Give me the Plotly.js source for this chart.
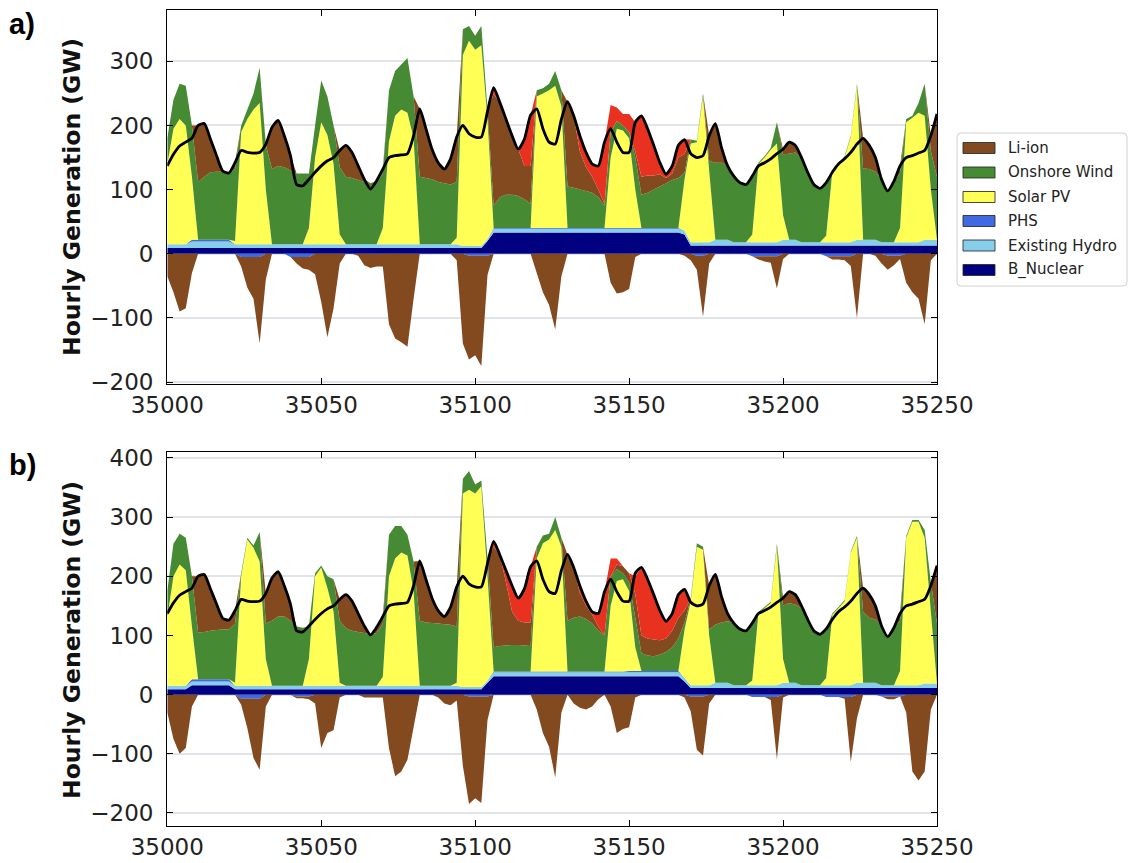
<!DOCTYPE html>
<html>
<head>
<meta charset="utf-8">
<script src="https://cdn.plot.ly/plotly-3.0.1.min.js"></script>
<style>html,body{margin:0;padding:0;background:#fff;}#chart{width:1132px;height:863px;}</style>
</head>
<body>
<div id="chart"></div>
<script>
// Hours start at 35000, one value every 2 hours (35000 ... 35250)
const hourStart = 35000;
const hourStep = 2;
const xTicks = [35000, 35050, 35100, 35150, 35200, 35250];
const legendNames = ["Li-ion", "Onshore Wind", "Solar PV", "PHS", "Existing Hydro", "B_Nuclear"];

// Demand (black line), GW — same in both panels
const demand = [
137,155,168,174,180,200,203,179,153,129,
126,142,161,158,157,158,171,197,208,184,
153,108,106,116,127,137,145,150,161,169,
158,137,116,101,114,132,150,153,154,156,
184,226,195,163,142,132,148,182,200,187,
182,182,222,259,236,210,184,163,179,216,
226,195,174,171,210,237,215,184,158,140,
137,174,195,174,158,158,205,215,195,169,
142,124,137,169,178,156,150,153,184,203,
166,137,121,111,108,121,137,142,148,156,
163,174,169,150,127,108,102,111,127,140,
148,158,171,180,169,150,116,98,113,137,
150,153,157,161,184,218];

// ---------- Panel a ----------
const nucA = [
9,9,9,9,9,9,9,9,9,9,
9,9,9,9,9,9,9,9,9,9,
9,9,9,9,9,9,9,9,9,9,
9,9,9,9,9,9,9,9,9,9,
9,9,9,9,9,9,9,9,9,9,
9,9,20,33,33,33,33,33,33,33,
33,33,33,33,33,33,33,33,33,33,
33,33,33,33,33,33,33,33,33,33,
33,33,33,33,30,13,13,13,13,13,
13,13,13,13,13,13,13,13,13,13,
13,13,13,13,13,13,13,13,13,13,
13,13,13,13,13,13,13,13,13,13,
13,13,13,13,13,13];
const hydA = [
6,6,6,6,10,10,10,10,10,10,
10,6,6,6,6,6,6,6,6,6,
6,6,6,6,6,6,6,6,6,6,
6,6,6,6,6,6,6,6,6,6,
6,6,6,6,6,6,6,6,3,3,
3,3,3,6,6,6,6,6,6,6,
6,6,6,6,6,6,6,6,6,6,
6,6,6,6,6,6,6,6,6,6,
6,6,6,6,6,5,5,5,5,9,
9,9,5,5,5,5,5,5,5,5,
9,9,9,5,5,5,5,5,5,5,
5,5,9,9,9,9,5,5,5,5,
5,5,5,9,9,9];
const phsA = [
0,0,0,0,3,3,3,3,3,3,
3,0,0,0,0,0,0,0,0,0,
0,0,0,0,0,0,0,0,0,0,
0,0,0,0,0,0,0,0,0,0,
0,0,0,0,0,0,0,0,0,0,
0,0,0,1,1,1,1,1,1,1,
1,1,1,1,1,1,1,1,1,1,
1,1,1,1,1,1,1,1,1,1,
1,1,1,1,0,0,0,0,0,0,
0,0,0,0,0,0,0,0,0,0,
0,0,0,0,0,0,0,0,0,0,
0,0,0,0,0,0,0,0,0,0,
0,0,0,0,0,0];
const solarA = [
125,180,195,185,98,0,0,0,0,0,
0,5,175,195,210,220,85,0,0,0,
0,0,0,25,135,190,170,125,15,0,
0,0,0,0,0,25,160,200,210,205,
165,0,0,0,0,0,0,10,298,320,
306,313,187,0,0,0,0,0,0,0,
205,210,215,222,190,0,0,0,0,0,
0,0,110,155,152,140,60,0,0,0,
0,0,0,0,80,154,156,227,112,0,
0,0,0,0,0,12,122,132,144,154,
38,0,0,0,0,0,0,10,110,120,
132,164,240,0,0,0,0,0,0,22,
187,194,202,193,78,0];
const windA = [
40,45,55,62,80,90,98,105,106,106,
104,112,10,15,25,55,70,117,122,120,
115,110,110,85,50,65,60,60,105,105,
103,100,97,95,97,85,80,70,70,85,
65,105,103,101,97,95,93,87,40,23,
22,30,15,35,48,52,52,50,45,38,
10,8,10,23,25,65,63,60,58,55,
48,35,40,12,8,10,50,52,55,60,
65,70,75,78,10,6,2,5,15,120,
120,115,103,93,90,91,2,2,3,33,
95,134,136,130,109,90,84,80,2,2,
2,2,3,111,110,106,98,80,95,85,
5,3,15,50,60,98];
const liA = [
0,0,0,0,0,88,83,52,25,1,
0,10,0,0,0,0,1,65,71,49,
23,0,0,0,0,0,0,0,26,49,
40,22,4,0,2,7,0,0,0,0,
0,106,77,47,30,22,40,70,0,0,
0,0,0,174,148,118,92,73,52,59,
0,0,0,0,0,132,112,60,37,25,
12,3,0,0,0,0,10,28,27,22,
19,8,10,32,30,0,0,0,39,61,
24,0,0,0,0,0,0,0,0,0,
8,18,11,2,0,0,0,3,0,0,
0,0,0,47,37,22,0,0,0,12,
0,0,0,0,24,98];
const redA = [
0,0,0,0,0,0,0,0,0,0,
0,0,0,0,0,0,0,0,0,0,
0,0,0,0,0,0,0,0,0,0,
0,0,0,0,0,0,0,0,0,0,
0,0,0,0,0,0,0,0,0,0,
0,0,0,10,0,0,0,0,42,79,
0,0,0,0,0,0,0,24,23,20,
37,96,42,21,18,28,45,95,73,47,
18,6,12,19,22,0,0,0,0,0,
0,0,0,0,0,0,0,0,0,0,
0,0,0,0,0,0,0,0,0,0,
0,0,0,0,0,0,0,0,0,0,
0,0,0,0,0,0];
const liNegA = [
-35,-60,-90,-85,-30,0,0,0,0,0,
0,0,-15,-48,-65,-135,-40,0,0,0,
0,-10,-18,-20,-32,-75,-130,-85,-15,0,
0,-3,-18,-22,-20,-20,-110,-132,-138,-145,
-70,0,0,0,0,0,0,-10,-140,-162,
-155,-172,-30,0,0,0,0,0,0,0,
-30,-60,-80,-118,-35,0,0,0,0,0,
0,0,-45,-62,-60,-55,-5,0,0,0,
0,0,0,0,-3,-10,-22,-95,-15,0,
0,0,0,0,0,0,-5,-8,-10,-50,
-8,0,0,0,0,0,0,0,-5,-5,
-6,-15,-100,0,0,-3,-15,-22,-15,-5,
-45,-60,-70,-110,-10,0];
const phsNegA = [
0,0,0,0,0,0,0,0,0,0,
0,0,-5,-5,-5,-5,0,0,0,0,
-5,-5,-5,-5,0,0,0,0,0,0,
0,0,0,0,0,0,0,0,0,0,
0,0,0,0,0,0,0,0,0,-3,
-3,-3,-3,0,0,0,0,0,0,0,
0,0,0,0,0,0,0,0,0,0,
0,0,0,0,0,0,0,0,0,0,
0,0,0,0,0,0,-3,-3,0,0,
0,0,0,0,0,-4,-4,-4,-4,-4,
0,0,0,0,0,0,0,-4,-4,-4,
-4,-4,0,0,0,0,0,-3,-3,-3,
0,0,0,0,0,0];

// ---------- Panel b ----------
const nucB = [
9,9,9,9,16,16,16,16,16,16,
16,9,9,9,9,9,9,9,9,9,
9,9,9,9,9,9,9,9,9,9,
9,9,9,9,9,9,9,9,9,9,
9,9,9,9,9,9,9,9,9,9,
9,9,20,31,31,31,31,31,31,31,
31,31,31,31,31,31,31,31,31,31,
31,31,31,31,31,31,31,31,31,31,
31,31,31,31,22,11,11,11,11,11,
11,11,11,11,11,11,11,11,11,11,
11,11,11,11,11,11,11,11,11,11,
11,11,11,11,11,11,11,11,11,11,
11,11,11,11,11,11];
const hydB = [
6,6,6,6,6,6,6,6,6,6,
6,6,6,6,6,6,6,6,6,6,
6,6,6,6,6,6,6,6,6,6,
6,6,6,6,6,6,6,6,6,6,
6,6,6,6,6,6,6,6,4,4,
4,4,4,7,7,7,7,7,7,7,
7,7,7,7,7,7,7,7,7,7,
7,7,7,7,7,7,7,7,7,7,
7,7,7,7,6,5,5,5,5,9,
9,9,5,5,5,5,5,5,5,5,
9,9,9,5,5,5,5,5,5,5,
5,5,9,9,9,9,5,5,5,5,
5,5,5,8,8,8];
const phsB = [
0,0,0,0,4,4,4,4,4,4,
4,0,0,0,0,0,0,0,0,0,
0,0,0,0,0,0,0,0,0,0,
0,0,0,0,0,0,0,0,0,0,
0,0,0,0,0,0,0,0,0,0,
0,0,0,1,1,1,1,1,1,1,
1,1,1,1,1,1,1,1,1,1,
1,1,1,1,1,2,2,2,2,2,
2,2,2,2,0,0,0,0,0,0,
0,0,0,0,0,0,0,0,0,0,
0,0,0,0,0,0,0,0,0,0,
0,0,0,0,0,0,0,0,0,0,
0,0,0,0,0,0];
const solarB = [
115,185,205,195,89,0,0,0,0,0,
0,5,185,247,233,210,45,0,0,0,
0,0,0,45,185,200,165,125,5,0,
0,0,0,0,0,15,185,215,225,220,
160,0,0,0,0,0,0,5,327,333,
327,339,176,0,0,0,0,0,0,0,
191,217,223,239,211,0,0,0,0,0,
0,0,111,153,156,135,40,0,0,0,
0,0,0,0,82,142,234,229,84,0,
0,0,0,0,0,8,122,130,139,234,
40,0,0,0,0,0,0,12,119,130,
142,224,245,0,0,0,0,0,0,24,
249,276,276,246,121,0];
const windB = [
45,55,52,55,85,79,80,82,83,84,
84,100,5,3,4,50,60,110,117,117,
110,100,98,55,5,3,20,55,105,97,
93,91,89,87,89,90,70,55,45,35,
50,110,107,106,105,104,103,95,25,32,
15,10,30,41,43,44,45,45,44,43,
20,13,10,22,15,86,91,93,89,81,
69,61,50,20,10,15,50,30,26,25,
28,32,40,55,12,4,6,5,10,98,
102,104,105,95,92,97,2,2,2,5,
90,135,132,130,111,92,86,80,2,2,
2,2,3,120,110,107,100,82,97,85,
3,3,3,13,50,101];
const liB = [
0,0,0,0,0,95,97,71,44,19,
16,22,0,0,0,0,51,72,76,52,
28,0,0,0,0,0,0,0,36,57,
50,31,12,0,10,12,0,0,0,0,
0,101,73,42,22,13,30,67,0,0,
0,0,0,170,154,107,56,41,39,40,
0,0,0,0,0,112,85,40,22,15,
7,0,0,8,12,15,40,30,29,28,
24,23,28,35,20,0,0,0,74,85,
44,13,0,0,0,0,0,0,0,0,
13,19,17,4,0,0,0,3,0,0,
0,0,0,40,39,23,0,0,0,12,
0,0,0,0,0,98];
const redB = [
0,0,0,0,0,0,0,0,0,0,
0,0,0,0,0,0,0,0,0,0,
0,0,0,0,0,0,0,0,0,0,
0,0,0,0,0,0,0,0,0,0,
0,0,0,0,0,0,0,0,0,0,
0,0,0,9,0,20,44,38,57,94,
0,0,0,0,0,0,0,12,8,5,
22,74,30,10,0,0,30,115,100,76,
50,29,29,39,36,0,0,0,0,0,
0,0,0,0,0,0,0,0,0,0,
0,0,0,0,0,0,0,0,0,0,
0,0,0,0,0,0,0,0,0,0,
0,0,0,0,0,0];
const liNegB = [
-30,-75,-100,-90,-20,0,0,0,0,0,
0,0,-10,-50,-100,-120,-20,0,0,0,
0,-3,-3,-5,-15,-90,-65,-60,-5,0,
0,0,-5,-5,-5,-5,-90,-138,-130,-110,
-55,0,0,0,-5,-15,-18,-10,-120,-182,
-172,-180,-40,0,0,0,0,0,0,0,
-25,-65,-88,-140,-30,0,-15,-22,-25,-20,
-8,0,-20,-65,-58,-55,-5,0,0,0,
0,0,0,0,-5,-25,-90,-100,-15,0,
0,0,0,0,0,0,0,0,-5,-105,
-5,0,0,0,0,0,0,0,0,0,
-3,-110,-40,0,0,0,0,-5,-5,0,
-30,-130,-145,-130,-25,0];
const phsNegB = [
0,0,0,0,0,0,0,0,0,0,
0,0,-7,-7,-7,-7,0,0,0,0,
0,-3,-3,-3,0,0,0,0,0,0,
0,0,0,0,0,0,0,0,0,0,
0,0,0,0,0,0,0,0,0,-3,
-3,-3,-3,0,0,0,0,0,0,0,
0,0,0,0,0,0,0,0,0,0,
0,0,0,0,0,0,0,0,0,0,
0,0,0,0,0,-3,-3,-3,0,0,
0,0,0,0,0,-4,-4,-4,-4,-4,
0,0,0,0,0,0,0,-4,-4,-4,
-4,-4,0,0,0,0,-3,-3,-3,-3,
0,0,0,0,0,0];

// ---------- styling ----------
const C = {
  li: '#834a20', wind: '#468a33', solar: '#ffff55', phs: '#4169e1',
  hydro: '#87ceeb', nuc: '#000080', red: '#e8321f'
};

function area(name, y, color, sg, xa, ya) {
  return {type: 'scatter', name: name, x0: hourStart, dx: hourStep, y: y,
    mode: 'none', fillcolor: color,
    stackgroup: sg, xaxis: xa, yaxis: ya, hoverinfo: 'skip', showlegend: false};
}
function demandLine(xa, ya) {
  return {type: 'scatter', name: 'Demand', x0: hourStart, dx: hourStep, y: demand,
    mode: 'lines', line: {width: 2.8, color: '#000', shape: 'spline', smoothing: 0.6},
    xaxis: xa, yaxis: ya, hoverinfo: 'skip', showlegend: false};
}

const traces = [
  area('B_Nuclear', nucA, C.nuc, 'posA', 'x', 'y'),
  area('Existing Hydro', hydA, C.hydro, 'posA', 'x', 'y'),
  area('PHS', phsA, C.phs, 'posA', 'x', 'y'),
  area('Solar PV', solarA, C.solar, 'posA', 'x', 'y'),
  area('Onshore Wind', windA, C.wind, 'posA', 'x', 'y'),
  area('Li-ion', liA, C.li, 'posA', 'x', 'y'),
  area('Other', redA, C.red, 'posA', 'x', 'y'),
  area('PHS', phsNegA, C.phs, 'negA', 'x', 'y'),
  area('Li-ion', liNegA, C.li, 'negA', 'x', 'y'),
  demandLine('x', 'y'),
  area('B_Nuclear', nucB, C.nuc, 'posB', 'x2', 'y2'),
  area('Existing Hydro', hydB, C.hydro, 'posB', 'x2', 'y2'),
  area('PHS', phsB, C.phs, 'posB', 'x2', 'y2'),
  area('Solar PV', solarB, C.solar, 'posB', 'x2', 'y2'),
  area('Onshore Wind', windB, C.wind, 'posB', 'x2', 'y2'),
  area('Li-ion', liB, C.li, 'posB', 'x2', 'y2'),
  area('Other', redB, C.red, 'posB', 'x2', 'y2'),
  area('PHS', phsNegB, C.phs, 'negB', 'x2', 'y2'),
  area('Li-ion', liNegB, C.li, 'negB', 'x2', 'y2'),
  demandLine('x2', 'y2')
];

const W = 1132, H = 863;
const px = v => v / W, py = v => 1 - v / H;

function xAxis(anchor) {
  return {domain: [px(167.3), px(937)], range: [35000, 35250], anchor: anchor,
    tickvals: xTicks, tickformat: 'd', ticks: 'inside', ticklen: 6, tickwidth: 1, tickcolor: '#000',
    showline: true, linecolor: '#000', linewidth: 1.2, mirror: 'ticks',
    showgrid: false, zeroline: false, ticklabelstandoff: 0,
    tickfont: {family: 'DejaVu Sans', size: 23, color: '#222'}};
}
function yAxis(anchor, dom, rng) {
  return {domain: dom, range: rng, anchor: anchor, dtick: 100, tick0: 0,
    ticks: 'inside', ticklen: 6, tickwidth: 1, tickcolor: '#000',
    showline: true, linecolor: '#000', linewidth: 1.2, mirror: 'ticks',
    showgrid: true, gridcolor: '#e1e5e9', gridwidth: 2, zeroline: false,
    ticklabelstandoff: 8,
    tickfont: {family: 'DejaVu Sans', size: 23, color: '#222'}};
}

// Legend (drawn as shapes + text)
const legColors = [C.li, C.wind, C.solar, C.phs, C.hydro, C.nuc];
const legY = [148, 172.5, 197, 221, 245.5, 270];
const shapes = [];
const bx0 = 957, bx1 = 1127, by0 = 133, by1 = 286, r = 4;
shapes.push({type: 'path', xref: 'paper', yref: 'paper',
  path: `M ${px(bx0 + r)} ${py(by0)} L ${px(bx1 - r)} ${py(by0)} Q ${px(bx1)} ${py(by0)} ${px(bx1)} ${py(by0 + r)} ` +
        `L ${px(bx1)} ${py(by1 - r)} Q ${px(bx1)} ${py(by1)} ${px(bx1 - r)} ${py(by1)} ` +
        `L ${px(bx0 + r)} ${py(by1)} Q ${px(bx0)} ${py(by1)} ${px(bx0)} ${py(by1 - r)} ` +
        `L ${px(bx0)} ${py(by0 + r)} Q ${px(bx0)} ${py(by0)} ${px(bx0 + r)} ${py(by0)} Z`,
  line: {color: '#d0d0d0', width: 1}, fillcolor: 'rgba(255,255,255,0.8)'});
const annotations = [];
legendNames.forEach((n, i) => {
  shapes.push({type: 'rect', xref: 'paper', yref: 'paper',
    x0: px(963), x1: px(995), y0: py(legY[i] + 5.5), y1: py(legY[i] - 5.5),
    fillcolor: legColors[i], line: {color: 'rgba(40,40,40,0.85)', width: 1}});
  annotations.push({xref: 'paper', yref: 'paper', x: px(1006), y: py(legY[i]),
    xanchor: 'left', yanchor: 'middle', showarrow: false, text: n,
    font: {family: 'DejaVu Sans', size: 15, color: '#222'}});
});
// Axis titles and panel labels
annotations.push({xref: 'paper', yref: 'paper', x: px(72), y: py(197), textangle: -90,
  xanchor: 'center', yanchor: 'middle', showarrow: false, text: '<b>Hourly Generation (GW)</b>',
  font: {family: 'DejaVu Sans', size: 23.5, color: '#111'}});
annotations.push({xref: 'paper', yref: 'paper', x: px(72), y: py(640), textangle: -90,
  xanchor: 'center', yanchor: 'middle', showarrow: false, text: '<b>Hourly Generation (GW)</b>',
  font: {family: 'DejaVu Sans', size: 23.5, color: '#111'}});
annotations.push({xref: 'paper', yref: 'paper', x: px(7), y: py(6), xanchor: 'left', yanchor: 'top',
  showarrow: false, text: '<b>a)</b>', font: {family: 'Liberation Sans, Arial', size: 29, color: '#000'}});
annotations.push({xref: 'paper', yref: 'paper', x: px(7), y: py(447), xanchor: 'left', yanchor: 'top',
  showarrow: false, text: '<b>b)</b>', font: {family: 'Liberation Sans, Arial', size: 29, color: '#000'}});

const layout = {
  width: W, height: H, margin: {l: 0, r: 0, t: 0, b: 0},
  paper_bgcolor: '#fff', plot_bgcolor: '#fff', showlegend: false,
  xaxis: xAxis('y'), yaxis: yAxis('x', [py(384), py(10)], [-203, 380]),
  xaxis2: xAxis('y2'), yaxis2: yAxis('x2', [py(826), py(452)], [-222, 410]),
  shapes: shapes, annotations: annotations
};

Plotly.newPlot('chart', traces, layout, {staticPlot: true, displayModeBar: false});
</script>
</body>
</html>
